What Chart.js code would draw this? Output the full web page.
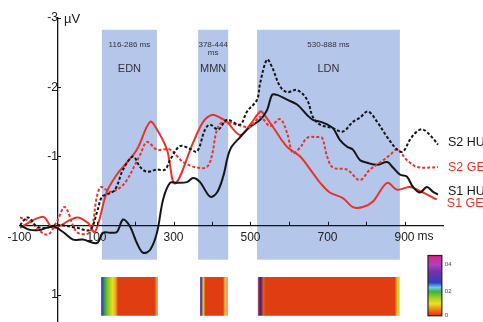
<!DOCTYPE html>
<html>
<head>
<meta charset="utf-8">
<script src="https://cdn.jsdelivr.net/npm/chart.js@4.4.0/dist/chart.umd.min.js"></script>
<style>
  html, body { margin: 0; padding: 0; background: #fff; }
  #wrap { width: 483px; height: 322px; }
</style>
</head>
<body>
<div id="wrap"><canvas id="erp"></canvas></div>
<script>
// ERP traces, time in ms, amplitude in µV (negative up)
const s2HuMs = [-99, -78, -55, -29, -3, 49, 83, 101, 114, 127, 148, 169, 195, 213, 231, 257, 278, 291, 317, 343, 361, 382, 395, 416, 439, 473, 491, 517, 525, 543, 556, 577, 595, 621, 647, 662, 681, 714, 740, 766, 784, 805, 829, 855, 881, 896, 914, 932, 948, 971, 987];
const s2HuUv = [-0.01, -0.12, 0.01, 0.03, -0.01, 0.03, 0.06, -0.19, -0.42, -0.45, -0.52, -0.81, -1.00, -0.85, -0.78, -0.81, -0.81, -0.95, -1.15, -1.11, -1.07, -1.39, -1.46, -1.39, -1.53, -1.46, -1.65, -1.82, -2.06, -2.40, -2.29, -2.01, -1.93, -1.96, -1.82, -1.57, -1.46, -1.41, -1.36, -1.50, -1.56, -1.65, -1.50, -1.28, -1.10, -1.07, -1.24, -1.36, -1.39, -1.28, -1.17];

const s2GeMs = [-99, -73, -29, -3, 18, 49, 83, 101, 112, 135, 161, 179, 200, 213, 231, 257, 291, 325, 361, 387, 400, 413, 429, 465, 499, 525, 551, 577, 595, 610, 629, 647, 673, 686, 699, 714, 751, 784, 810, 836, 862, 881, 906, 932, 966, 987];
const s2GeUv = [-0.12, -0.06, 0.13, -0.06, -0.27, 0.09, 0.09, -0.42, -0.56, -0.49, -0.55, -0.66, -0.88, -1.02, -1.21, -1.10, -1.10, -0.92, -0.84, -0.85, -1.02, -1.39, -1.50, -1.46, -1.43, -1.57, -1.44, -1.54, -1.34, -1.05, -1.13, -1.27, -1.28, -1.27, -1.00, -0.84, -0.81, -0.66, -0.81, -0.91, -1.02, -1.10, -0.95, -0.85, -0.84, -0.85];

const s1HuMs = [-99, -73, -47, -13, 13, 39, 65, 101, 117, 135, 153, 169, 187, 205, 221, 239, 257, 273, 291, 309, 335, 351, 369, 395, 413, 429, 447, 473, 499, 525, 543, 556, 569, 595, 621, 647, 662, 688, 714, 732, 751, 766, 784, 803, 829, 855, 870, 888, 906, 922, 940, 958, 974, 987];
const s1HuUv = [-0.01, 0.06, 0.06, 0.01, 0.09, 0.20, 0.20, 0.25, 0.10, 0.10, 0.09, -0.09, 0.01, 0.25, 0.39, 0.35, 0.10, -0.38, -0.62, -0.62, -0.63, -0.69, -0.63, -0.42, -0.48, -0.71, -1.10, -1.28, -1.43, -1.53, -1.67, -1.89, -1.89, -1.82, -1.75, -1.60, -1.53, -1.49, -1.41, -1.24, -1.14, -1.10, -0.95, -0.91, -0.88, -0.92, -0.84, -0.74, -0.71, -0.56, -0.48, -0.56, -0.49, -0.45];

const s1GeMs = [-99, -39, -13, 49, 78, 96, 127, 153, 174, 205, 239, 257, 283, 304, 351, 377, 400, 421, 439, 473, 499, 525, 532, 558, 595, 629, 662, 681, 706, 740, 766, 792, 818, 855, 881, 914, 948, 984];
const s1GeUv = [0.03, -0.13, 0.03, -0.12, -0.04, 0.09, -0.49, -0.74, -0.88, -1.10, -1.50, -1.39, -1.10, -0.61, -1.20, -1.50, -1.60, -1.56, -1.50, -1.31, -1.46, -1.65, -1.63, -1.43, -1.14, -1.00, -0.76, -0.62, -0.48, -0.40, -0.27, -0.27, -0.35, -0.62, -0.52, -0.56, -0.48, -0.38];

const seriesNames = ['S2 HU', 'S2 GE', 'S1 HU', 'S1 GE'];

// analysis windows (shaded) and their captions
const windowStart = [114, 364, 517];
const windowEnd = [257, 442, 888];
const windowRange = ['116-286 ms', '378-444\nms', '530-888 ms'];
const windowName = ['EDN', 'MMN', 'LDN'];

// significance strips under each window: [ms, colour]
const stripStops = [
  [[112, '#8a2a9a'], [116, '#3050c0'], [121, '#3aa040'], [130, '#8cc820'], [142, '#e8e020'], [150, '#f0a020'], [156, '#e03e12'], [252, '#e03e12'], [255, '#e8a030'], [259, '#a070c0']],
  [[369, '#8a2a9a'], [373, '#3050c0'], [377, '#f0d020'], [383, '#e03e12'], [429, '#e03e12'], [434, '#f0d020'], [441, '#e070d0']],
  [[519, '#d07030'], [522, '#802080'], [527, '#402080'], [533, '#e06010'], [540, '#e03e12'], [874, '#e03e12'], [880, '#f0a020'], [883, '#e8e020'], [887, '#80d040']]
];

const xTicks = [-100, 0, 100, 200, 300, 400, 500, 600, 700, 800, 900];
const xTickLabels = ['-100', '', '100', '', '300', '', '500', '', '700', '', '900'];
const yTicks = [-3, -2, -1, 1];

const FONT = 'Liberation Sans, Arial, sans-serif';
const RED = '#e5352b';
const BLACK = '#151515';

const erpDecor = {
  id: 'erpDecor',
  beforeDraw(chart) {
    const {ctx, scales: {x, y}} = chart;
    ctx.save();
    const top = y.getPixelForValue(-2.83), bottom = y.getPixelForValue(0.49);
    const st = y.getPixelForValue(0.74), sb = y.getPixelForValue(1.30);
    windowStart.forEach((start, i) => {
      const l = x.getPixelForValue(start), r = x.getPixelForValue(windowEnd[i]);
      ctx.fillStyle = '#b4c6ea';
      ctx.fillRect(l, top, r - l, bottom - top);
      const cx = (l + r) / 2;
      ctx.fillStyle = '#333';
      ctx.textAlign = 'center';
      ctx.textBaseline = 'middle';
      ctx.font = '8px ' + FONT;
      windowRange[i].split('\n').forEach((line, k) => ctx.fillText(line, cx, top + 15 + k * 8));
      ctx.font = '11px ' + FONT;
      ctx.fillText(windowName[i], cx, top + 39);

      const stops = stripStops[i];
      const sl = x.getPixelForValue(stops[0][0]);
      const sr = x.getPixelForValue(stops[stops.length - 1][0]);
      const g = ctx.createLinearGradient(sl, 0, sr, 0);
      stops.forEach(([ms, c]) => g.addColorStop((x.getPixelForValue(ms) - sl) / (sr - sl), c));
      ctx.fillStyle = g;
      ctx.fillRect(sl, st, sr - sl, sb - st);
    });
    ctx.restore();
  },
  afterDraw(chart) {
    const {ctx, scales: {x, y}} = chart;
    ctx.save();
    const x0 = x.getPixelForValue(0), y0 = y.getPixelForValue(0);
    ctx.strokeStyle = BLACK;
    ctx.lineWidth = 1;
    // small tick marks
    xTicks.forEach(v => {
      if (v <= 0) return;
      const px = Math.round(x.getPixelForValue(v)) + 0.5;
      ctx.beginPath(); ctx.moveTo(px, y0); ctx.lineTo(px, y0 - 4); ctx.stroke();
    });
    yTicks.forEach(v => {
      const py = Math.round(y.getPixelForValue(v)) + 0.5;
      ctx.beginPath(); ctx.moveTo(x0, py); ctx.lineTo(x0 + 3, py); ctx.stroke();
    });
    ctx.fillStyle = '#222';
    ctx.font = '13px ' + FONT;
    ctx.textAlign = 'left';
    ctx.textBaseline = 'middle';
    ctx.fillText('µV', x0 + 6, y.getPixelForValue(-3) + 1);
    ctx.font = '12px ' + FONT;
    ctx.fillText('ms', x.getPixelForValue(900) + 13, y0 + 11);

    // series labels at the end of each trace
    const offs = [-2, 1, -3, 4];
    chart.data.datasets.forEach((ds, i) => {
      const last = ds.data[ds.data.length - 1];
      ctx.fillStyle = ds.borderColor;
      ctx.font = '12.5px ' + FONT;
      ctx.fillText(seriesNames[i], x.getPixelForValue(last.x) + 10, y.getPixelForValue(last.y) + offs[i]);
    });

    // colour bar
    const bl = x.getPixelForValue(961), br = x.getPixelForValue(997);
    const bt = y.getPixelForValue(0.43), bb = y.getPixelForValue(1.30);
    const g = ctx.createLinearGradient(0, bb, 0, bt);
    [[0, '#e03010'], [0.1, '#f08010'], [0.2, '#f0e020'], [0.3, '#a0d020'], [0.4, '#40b040'],
     [0.47, '#70c8e8'], [0.55, '#3040c0'], [0.72, '#7030b0'], [0.85, '#b040c0'], [1, '#e0208a']]
      .forEach(([p, c]) => g.addColorStop(p, c));
    ctx.fillStyle = g;
    ctx.fillRect(bl, bt, br - bl, bb - bt);
    ctx.strokeStyle = '#222';
    ctx.lineWidth = 1.2;
    ctx.strokeRect(bl, bt, br - bl, bb - bt);
    ctx.fillStyle = '#444';
    ctx.font = '6px ' + FONT;
    [['04', 0.15], ['02', 0.6], ['0', 1]].forEach(([t, f]) => {
      ctx.fillText(t, br + 3, bt + (bb - bt) * f);
    });
    ctx.restore();
  }
};

function pts(ms, uv) { return ms.map((m, i) => ({x: m, y: uv[i]})); }

new Chart(document.getElementById('erp'), {
  type: 'line',
  data: {
    datasets: [
      {label: seriesNames[0], data: pts(s2HuMs, s2HuUv), borderColor: BLACK, borderDash: [3, 2]},
      {label: seriesNames[1], data: pts(s2GeMs, s2GeUv), borderColor: RED, borderDash: [3, 2]},
      {label: seriesNames[2], data: pts(s1HuMs, s1HuUv), borderColor: BLACK},
      {label: seriesNames[3], data: pts(s1GeMs, s1GeUv), borderColor: RED}
    ]
  },
  options: {
    responsive: true,
    maintainAspectRatio: false,
    animation: false,
    elements: {
      point: {radius: 0},
      line: {borderWidth: 2, tension: 0.35, fill: false}
    },
    layout: {padding: {left: 19.5, right: 40, top: 18, bottom: 0}},
    plugins: {legend: {display: false}, tooltip: {enabled: false}},
    scales: {
      x: {
        type: 'linear',
        min: -100,
        max: 1000,
        position: {y: 0},
        afterBuildTicks: s => { s.ticks = xTicks.map(v => ({value: v})); },
        afterFit: s => { s.height = 0; s.paddingLeft = 0; s.paddingRight = 0; },
        grid: {drawOnChartArea: false, drawTicks: false},
        border: {color: BLACK, width: 1.3},
        ticks: {
          padding: 5,
          color: '#222',
          font: {family: FONT, size: 12},
          maxRotation: 0,
          autoSkip: false,
          callback: (v) => xTickLabels[xTicks.indexOf(v)]
        }
      },
      y: {
        type: 'linear',
        min: -3,
        max: 1.39,
        reverse: true,
        position: {x: 0},
        afterBuildTicks: s => { s.ticks = yTicks.map(v => ({value: v})); },
        afterFit: s => { s.width = 0; s.paddingTop = 0; s.paddingBottom = 0; },
        grid: {drawOnChartArea: false, drawTicks: false},
        border: {color: BLACK, width: 1.3},
        ticks: {
          padding: 6,
          color: '#222',
          font: {family: FONT, size: 12},
          callback: (v) => String(v)
        }
      }
    }
  },
  plugins: [erpDecor]
});
</script>
</body>
</html>
